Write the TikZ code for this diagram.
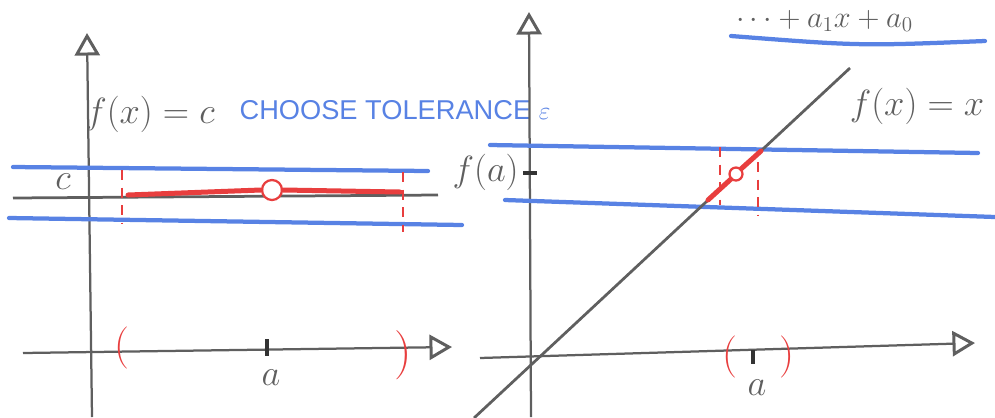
\documentclass[tikz,border=0pt]{standalone}
\usepackage{fontspec}
\setsansfont{Liberation Sans}
\usetikzlibrary{arrows.meta}

\definecolor{pencil}{RGB}{95,95,95}
\definecolor{bluepen}{RGB}{88,130,228}
\definecolor{redpen}{RGB}{232,62,62}

\begin{document}
\begin{tikzpicture}[x=0.2mm, y=-0.2mm,
    axis/.style={draw=pencil, line width=0.45mm, -{Triangle[open, length=4.5mm, width=5mm, line width=0.6mm]}},
    fn/.style={draw=pencil, line width=0.55mm},
    band/.style={draw=bluepen, line width=0.85mm, line cap=round},
    limit/.style={draw=redpen, line width=1mm, line cap=round},
    guide/.style={draw=redpen, line width=0.4mm, dash pattern=on 2mm off 1.5mm},
    hole/.style={circle, draw=redpen, fill=white, line width=0.45mm, inner sep=0pt},
    tick/.style={draw=black!80, line width=0.7mm},
    paren/.style={text=redpen, font=\fontsize{24}{24}\selectfont, inner sep=0pt},
    hand/.style={text=pencil, font=\fontsize{20}{20}\selectfont, inner sep=0pt},
    note/.style={text=bluepen, font=\sffamily\fontsize{15.5}{15.5}\selectfont, inner sep=0pt}
]
\useasboundingbox (0,0) rectangle (995,417);

% Left plot: f(x) = c
\draw[axis] (92,417) -- (87,33);
\draw[axis] (23,353) -- (452,347);
\draw[band] (13,167) -- (428,171);
\draw[band] (9,218) -- (462,225);
\draw[fn] (13,198) -- (438,195);
\node[hole, minimum size=4mm] (hole1) at (272,190) {};
\draw[limit] (128,195) -- (hole1.west);
\draw[limit] (hole1.east) -- (400,192);
\draw[guide] (122,170) -- (122,224);
\draw[guide] (403,172) -- (403,232);
\draw[tick] (267,339) -- (267,356);
\node[hand] (c1) at (63,182) {$c$};
\node[hand] (fc) at (150,114) {$f(x)=c$};
\node[note] (tol) at (395,110) {CHOOSE TOLERANCE $\varepsilon$};
\node[hand] (a1) at (271,378) {$a$};
\node[paren] (lp1) at (122,348) {(};
\node[paren, font=\fontsize{28}{28}\selectfont] (rp1) at (403,355) {)};

% Right plot: f(x) = x
\draw[axis] (531,417) -- (529,12);
\draw[axis] (480,358) -- (975,343);
\draw[band] (490,145) -- (978,153);
\draw[band] (505,200) -- (995,217);
\draw[fn] (474,418) -- (850,68);
\node[hole, minimum size=2.6mm] (hole2) at (736,174) {};
\draw[limit] (708,200) -- (hole2.south west);
\draw[limit] (hole2.north east) -- (761,151);
\draw[guide] (720,147) -- (720,205);
\draw[guide] (758,162) -- (758,215);
\draw[tick] (523,173) -- (537,173);
\node[hand, anchor=east] (fa) at (519,172) {$f(a)$};
\draw[tick] (753,350) -- (753,364);
\node[hand] (a2) at (757,388) {$a$};
\node[paren] (lp2) at (730,357) {(};
\node[paren] (rp2) at (787,357) {)};
\node[hand] (fx) at (917,106) {$f(x)=x$};

% Polynomial note, top right
\node[hand, anchor=base west, font=\fontsize{17}{17}\selectfont] (poly) at (736,27) {$\cdots+a_1x+a_0$};
\draw[band] (731,36) .. controls (860,46) .. (985,41);

\end{tikzpicture}
\end{document}
